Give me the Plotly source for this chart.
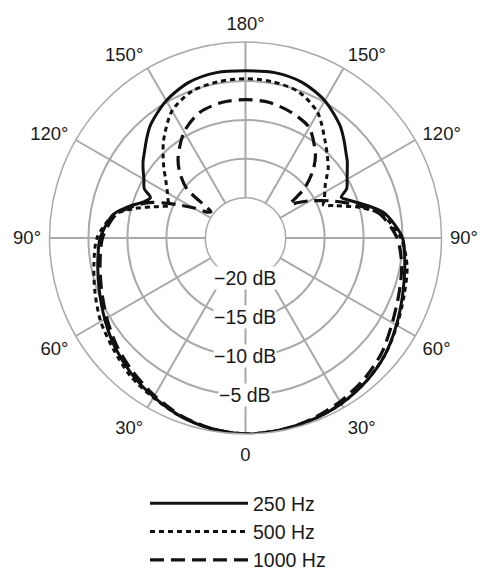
import plotly.graph_objects as go

# angles (deg, 0 = front/bottom, clockwise so 90 sits on the left)
theta = [0, 10, 20, 30, 40, 50, 60, 70, 80, 90, 100, 105, 110, 113, 116, 120, 124, 127, 130, 135, 140, 150, 160, 170, 180,
         190, 200, 210, 220, 225, 230, 233, 236, 240, 244, 247, 250, 255, 260, 270, 280, 290, 300, 310, 320, 330, 340, 350, 360]

# level in dB
db_250 = [0, -0.3, -0.8, -1.6, -2.4, -3.3, -4.3, -5.2, -5.9, -6.5, -7.9, -9.6, -11.4, -11.9, -10.7, -10.1, -9.3, -8.7, -8.2, -7.2, -6.2, -4.8, -3.9, -3.6, -3.7,
          -3.6, -3.9, -4.8, -6.3, -7.3, -8.3, -8.8, -9.4, -10.1, -10.7, -11.8, -11.0, -9.0, -7.0, -5.0, -4.4, -3.7, -2.8, -1.8, -1.1, -0.6, -0.3, -0.1, 0]
db_500 = [0, -0.3, -0.8, -1.5, -2.1, -3.0, -3.7, -4.6, -5.4, -6.1, -8.0, -10.5, -13.3, -14.5, -14.1, -13.6, -12.9, -12.3, -11.5, -10.2, -8.8, -6.3, -5.1, -4.8, -4.7,
          -4.8, -5.2, -6.6, -9.2, -10.3, -11.3, -12.1, -12.8, -13.4, -13.9, -14.3, -13.0, -10.0, -7.5, -5.2, -4.1, -3.5, -2.7, -1.8, -1.1, -0.6, -0.3, -0.1, 0]
db_1000 = [0, -0.3, -0.9, -1.8, -2.7, -3.6, -4.6, -5.5, -6.2, -6.8, -8.2, -9.9, -11.9, -13.6, -15.4, -17.4, -19.2, -19.6, -15.3, -13.2, -11.7, -9.4, -8.0, -7.5, -7.4,
           -7.5, -8.0, -8.8, -11.2, -12.9, -15.3, -18.0, -17.0, -15.6, -14.2, -13.0, -11.8, -9.6, -7.6, -5.7, -4.8, -4.2, -3.4, -2.3, -1.5, -0.9, -0.4, -0.1, 0]

angle_ticks = [0, 30, 60, 90, 120, 150, 180, 210, 240, 270, 300, 330]
angle_text = ['0', '30°', '60°', '90°', '120°', '150°', '180°', '150°', '120°', '90°', '60°', '30°']
ring_vals = [-20, -15, -10, -5]
ring_text = ['\u221220 dB', '\u221215 dB', '\u221210 dB', '\u22125 dB']

W, H = 482, 573
R_MIN, R_MAX = -20, 0
HOLE = 0.205
GRID = '#a9a9a9'
INK = '#1a1a1a'
# polar square in pixels
x0, x1 = 49.5, 441.5
ytop, ybot = 42, 434
rad_px = (x1 - x0) / 2

fig = go.Figure()
series = [
    ('250 Hz', db_250, 'solid', 3.0),
    ('500 Hz', db_500, '5px,4px', 3.0),
    ('1000 Hz', db_1000, '14px,7px', 3.2),
]
for name, vals, dash, w in series:
    fig.add_trace(go.Scatterpolar(
        r=vals, theta=theta, mode='lines', name=name,
        line=dict(color='#111111', width=w, dash=dash, shape='spline', smoothing=0.8),
    ))

dom_x = [x0 / W, x1 / W]
dom_y = [1 - ybot / H, 1 - ytop / H]
cx = sum(dom_x) / 2
cy = sum(dom_y) / 2

# dB labels sit on the rings below the centre, white boxes hide the grid
for v, t in zip(ring_vals, ring_text):
    r_px = rad_px * (HOLE + (1 - HOLE) * (v - R_MIN) / (R_MAX - R_MIN))
    fig.add_annotation(x=cx, y=cy - (r_px - 0.5) / H, xref='paper', yref='paper', text=t,
                       showarrow=False, xanchor='center', yanchor='middle',
                       bgcolor='white', borderpad=0,
                       font=dict(size=19.5, color=INK))

fig.update_layout(
    width=W, height=H,
    margin=dict(l=0, r=0, t=0, b=0, autoexpand=False),
    paper_bgcolor='white',
    font=dict(family='Liberation Sans, Arial, sans-serif', size=19, color=INK),
    polar=dict(
        domain=dict(x=dom_x, y=dom_y),
        hole=HOLE,
        bgcolor='white',
        radialaxis=dict(range=[R_MIN, R_MAX], tickvals=[-20, -15, -10, -5, 0],
                        showticklabels=False, ticks='', showline=False,
                        gridcolor=GRID, gridwidth=1.5),
        angularaxis=dict(rotation=270, direction='clockwise',
                         tickvals=angle_ticks, ticktext=angle_text,
                         tickfont=dict(size=18.5, color=INK),
                         ticks='outside', ticklen=4, tickcolor='rgba(0,0,0,0)',
                         showline=True, linecolor=GRID, linewidth=1.5,
                         gridcolor=GRID, gridwidth=1.5),
    ),
    showlegend=True,
    legend=dict(x=145 / W, xanchor='left', y=1 - 484 / H, yanchor='top',
                itemwidth=98, font=dict(size=19.5, color=INK),
                bgcolor='rgba(0,0,0,0)', tracegroupgap=0),
)

# drop the default page margin so the figure fills the window exactly
fig.write_html("out.html", config={'displayModeBar': False},
               post_script="document.body.style.margin = '0';")
